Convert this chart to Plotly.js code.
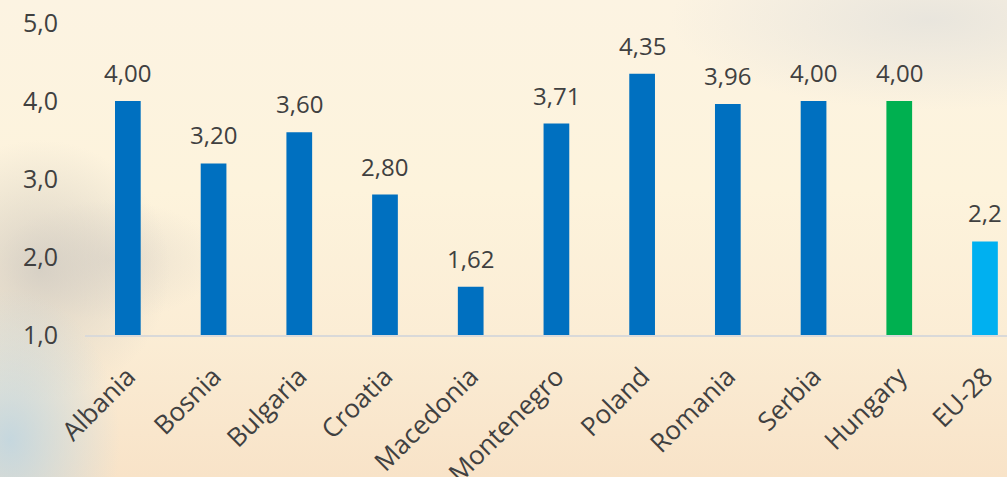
<!DOCTYPE html>
<html>
<head>
<meta charset="utf-8">
<script src="https://cdn.plot.ly/plotly-3.0.1.min.js"></script>
<style>
html, body { margin:0; padding:0; width:1007px; height:477px; overflow:hidden; }
body {
  background:
    radial-gradient(ellipse 110px 150px at 10px 440px, rgba(180,210,228,0.75), rgba(180,210,228,0) 100%),
    radial-gradient(ellipse 130px 130px at 40px 270px, rgba(205,200,192,0.75), rgba(205,200,192,0) 100%),
    radial-gradient(ellipse 110px 60px at 110px 260px, rgba(215,208,198,0.5), rgba(215,208,198,0) 100%),
    radial-gradient(ellipse 260px 90px at 930px 20px, rgba(228,226,220,0.8), rgba(228,226,220,0) 100%),
    linear-gradient(to bottom, #fcf3e2 0%, #fdf3dc 40%, #fbedd5 70%, #f8e3c8 100%);
}
#chart { width:1007px; height:477px; }
</style>
</head>
<body>
<div id="chart"></div>
<script>
const categories = ["Albania","Bosnia","Bulgaria","Croatia","Macedonia","Montenegro","Poland","Romania","Serbia","Hungary","EU-28"];
const values = [4.00, 3.20, 3.60, 2.80, 1.62, 3.71, 4.35, 3.96, 4.00, 4.00, 2.2];
const valueLabels = ["4,00","3,20","3,60","2,80","1,62","3,71","4,35","3,96","4,00","4,00","2,2"];
const barColors = ["#0070c0","#0070c0","#0070c0","#0070c0","#0070c0","#0070c0","#0070c0","#0070c0","#0070c0","#00b050","#00b0f0"];
const yTicks = [1, 2, 3, 4, 5];

const FONT = "Open Sans, DejaVu Sans, sans-serif";
const TXT = "#404040";

const trace = {
  type: "bar",
  x: categories,
  y: values.map(v => v - 1),
  base: 1,
  marker: { color: barColors },
  hoverinfo: "skip"
};

const annotations = categories.map((c, i) => ({
  x: c, y: values[i], xref: "x", yref: "y",
  text: valueLabels[i], showarrow: false,
  yanchor: "bottom", yshift: 10,
  font: { family: FONT, size: 24, color: TXT }
}));

const layout = {
  width: 1007, height: 477,
  margin: { l: 85, r: 0, t: 23, b: 142 },
  paper_bgcolor: "rgba(0,0,0,0)",
  plot_bgcolor: "rgba(0,0,0,0)",
  separators: ", ",
  bargap: 0.7,
  showlegend: false,
  font: { family: FONT, color: TXT },
  xaxis: {
    type: "category",
    range: [-0.5, 10.257],
    showline: true, linecolor: "#d9d9d9", linewidth: 2,
    showgrid: false, zeroline: false, ticks: "",
    tickangle: -45,
    ticklabelstandoff: 14,
    tickfont: { family: FONT, size: 26, color: TXT }
  },
  yaxis: {
    range: [1, 5],
    tickvals: yTicks,
    tickformat: ".1f",
    showgrid: false, zeroline: false, showline: false, ticks: "",
    ticklabelstandoff: 26,
    tickfont: { family: FONT, size: 25, color: TXT }
  },
  annotations: annotations
};

Plotly.newPlot("chart", [trace], layout, { staticPlot: true, displayModeBar: false });
</script>
</body>
</html>
